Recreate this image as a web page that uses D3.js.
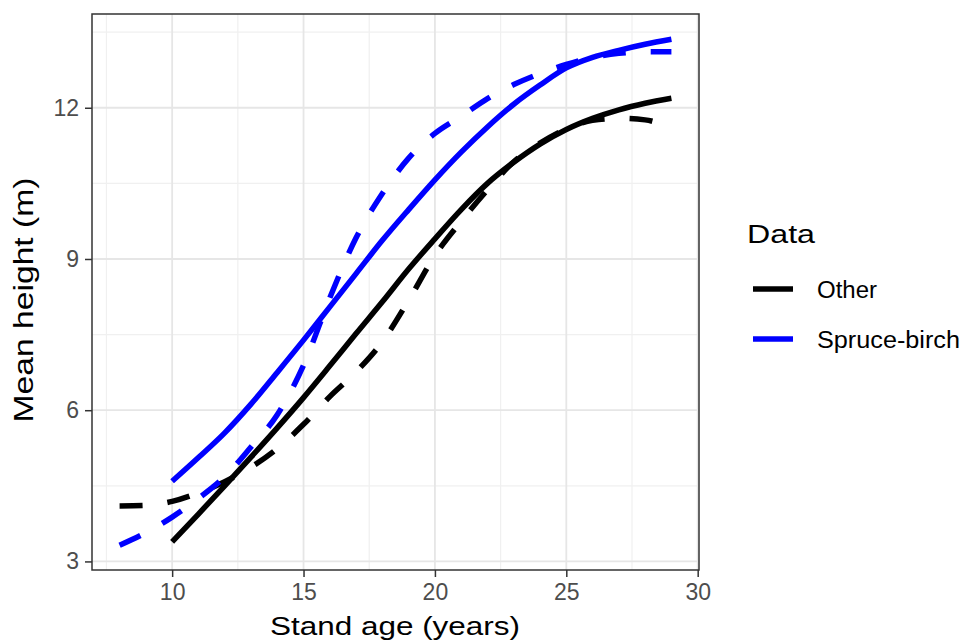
<!DOCTYPE html>
<html>
<head>
<meta charset="utf-8">
<script src="https://cdn.jsdelivr.net/npm/d3@7"></script>
<style>
  html, body { margin: 0; padding: 0; background: #fff; }
  svg { display: block; font-family: "Liberation Sans", Arial, sans-serif; }
</style>
</head>
<body>
<svg id="chart" width="961" height="641"></svg>
<script>
// Stand age (years) for fitted and observed curves
const ageModel = [10, 11, 12, 13, 14, 15, 16, 17, 18, 19, 20, 21, 22, 23, 24, 25, 26, 27, 28, 29];
const ageObserved = [8, 9, 10, 11, 12, 13, 14, 15, 16, 17, 18, 19, 20, 21, 22, 23, 24, 25, 26, 27, 28, 29];

// Mean height (m): solid = model, dashed = observed smooth
const otherModel = [3.39, 3.94, 4.50, 5.07, 5.65, 6.25, 6.88, 7.52, 8.15, 8.80, 9.40, 9.98, 10.50, 10.92, 11.28, 11.57, 11.79, 11.96, 12.09, 12.19];
const spruceModel = [4.59, 5.06, 5.55, 6.12, 6.75, 7.39, 8.05, 8.71, 9.37, 9.98, 10.57, 11.12, 11.62, 12.07, 12.45, 12.79, 13.00, 13.14, 13.26, 13.36];
const otherObserved = [4.10, 4.11, 4.19, 4.36, 4.58, 4.87, 5.24, 5.72, 6.27, 6.76, 7.36, 8.18, 9.07, 9.75, 10.37, 10.93, 11.30, 11.58, 11.75, 11.79, 11.76, 11.59];
const spruceObserved = [3.32, 3.57, 3.88, 4.25, 4.68, 5.27, 5.91, 6.89, 8.23, 9.42, 10.30, 11.00, 11.49, 11.83, 12.18, 12.46, 12.68, 12.86, 13.00, 13.08, 13.11, 13.11];

const groups = ["Other", "Spruce-birch"];
const groupColors = ["#000000", "#0000ff"];
const groupLabelWidths = [60, 143];

const xTicks = [10, 15, 20, 25, 30];
const xMinor = [7.5, 12.5, 17.5, 22.5, 27.5];
const yTicks = [3, 6, 9, 12];
const yMinor = [4.5, 7.5, 10.5, 13.5];

const svg = d3.select("#chart");
const panel = { left: 92, top: 14, right: 699, bottom: 570 };

const x = d3.scaleLinear().domain([6.95, 30.05]).range([panel.left, panel.right]);
const y = d3.scaleLinear().domain([2.83, 13.86]).range([panel.bottom, panel.top]);

// Panel background and grid
svg.append("rect")
  .attr("x", panel.left).attr("y", panel.top)
  .attr("width", panel.right - panel.left).attr("height", panel.bottom - panel.top)
  .attr("fill", "#ffffff");

const grid = svg.append("g");
grid.selectAll(".xminor").data(xMinor).join("line")
  .attr("x1", d => x(d)).attr("x2", d => x(d))
  .attr("y1", panel.top).attr("y2", panel.bottom)
  .attr("stroke", "#f0f0f0").attr("stroke-width", 1.2);
grid.selectAll(".yminor").data(yMinor).join("line")
  .attr("y1", d => y(d)).attr("y2", d => y(d))
  .attr("x1", panel.left).attr("x2", panel.right)
  .attr("stroke", "#f0f0f0").attr("stroke-width", 1.2);
grid.selectAll(".xmajor").data(xTicks).join("line")
  .attr("x1", d => x(d)).attr("x2", d => x(d))
  .attr("y1", panel.top).attr("y2", panel.bottom)
  .attr("stroke", "#e6e6e6").attr("stroke-width", 1.8);
grid.selectAll(".ymajor").data(yTicks).join("line")
  .attr("y1", d => y(d)).attr("y2", d => y(d))
  .attr("x1", panel.left).attr("x2", panel.right)
  .attr("stroke", "#e6e6e6").attr("stroke-width", 1.8);

// Curves
const line = d3.line()
  .x(d => x(d[0]))
  .y(d => y(d[1]))
  .curve(d3.curveMonotoneX);

const curves = [
  { ages: ageObserved, values: otherObserved, color: groupColors[0], dashed: true },
  { ages: ageObserved, values: spruceObserved, color: groupColors[1], dashed: true },
  { ages: ageModel, values: otherModel, color: groupColors[0], dashed: false },
  { ages: ageModel, values: spruceModel, color: groupColors[1], dashed: false }
];

svg.append("g").selectAll("path").data(curves).join("path")
  .attr("d", c => line(c.ages.map((a, i) => [a, c.values[i]])))
  .attr("fill", "none")
  .attr("stroke", c => c.color)
  .attr("stroke-width", 5.5)
  .attr("stroke-linecap", "butt")
  .attr("stroke-linejoin", "round")
  .attr("stroke-dasharray", c => c.dashed ? "23,25" : null);

// Panel border
svg.append("rect")
  .attr("x", panel.left).attr("y", panel.top)
  .attr("width", panel.right - panel.left).attr("height", panel.bottom - panel.top)
  .attr("fill", "none").attr("stroke", "#333333").attr("stroke-width", 1.5);

// Axes
const xAxis = d3.axisBottom(x).tickValues(xTicks).tickSize(7).tickPadding(7);
const gx = svg.append("g").attr("transform", `translate(0,${panel.bottom})`).call(xAxis);
gx.select(".domain").remove();
gx.selectAll(".tick line").attr("stroke", "#333333").attr("stroke-width", 1.5);
gx.selectAll(".tick text").attr("fill", "#4d4d4d").attr("font-size", 23)
  .attr("font-family", "Liberation Sans, Arial, sans-serif");

const yAxis = d3.axisLeft(y).tickValues(yTicks).tickSize(7).tickPadding(6);
const gy = svg.append("g").attr("transform", `translate(${panel.left},0)`).call(yAxis);
gy.select(".domain").remove();
gy.selectAll(".tick line").attr("stroke", "#333333").attr("stroke-width", 1.5);
gy.selectAll(".tick text").attr("fill", "#4d4d4d").attr("font-size", 23)
  .attr("font-family", "Liberation Sans, Arial, sans-serif");

// Axis titles
svg.append("text")
  .attr("x", 395).attr("y", 635)
  .attr("text-anchor", "middle").attr("font-size", 26).attr("fill", "#000")
  .attr("textLength", 250).attr("lengthAdjust", "spacingAndGlyphs")
  .text("Stand age (years)");

svg.append("text")
  .attr("transform", "translate(33,300) rotate(-90)")
  .attr("text-anchor", "middle").attr("font-size", 27).attr("fill", "#000")
  .attr("textLength", 245).attr("lengthAdjust", "spacingAndGlyphs")
  .text("Mean height (m)");

// Legend
const legend = svg.append("g");
legend.append("text").attr("x", 747).attr("y", 243)
  .attr("font-size", 25).attr("fill", "#000")
  .attr("textLength", 68).attr("lengthAdjust", "spacingAndGlyphs")
  .text("Data");

const items = legend.selectAll(".item").data(groups).join("g")
  .attr("transform", (d, i) => `translate(0,${289 + i * 50})`);
items.append("line")
  .attr("x1", 753).attr("x2", 793).attr("y1", 0).attr("y2", 0)
  .attr("stroke", (d, i) => groupColors[i]).attr("stroke-width", 5.5);
items.append("text").attr("x", 817).attr("y", 9)
  .attr("font-size", 23).attr("fill", "#000")
  .attr("textLength", (d, i) => groupLabelWidths[i]).attr("lengthAdjust", "spacingAndGlyphs")
  .text(d => d);
</script>
</body>
</html>
